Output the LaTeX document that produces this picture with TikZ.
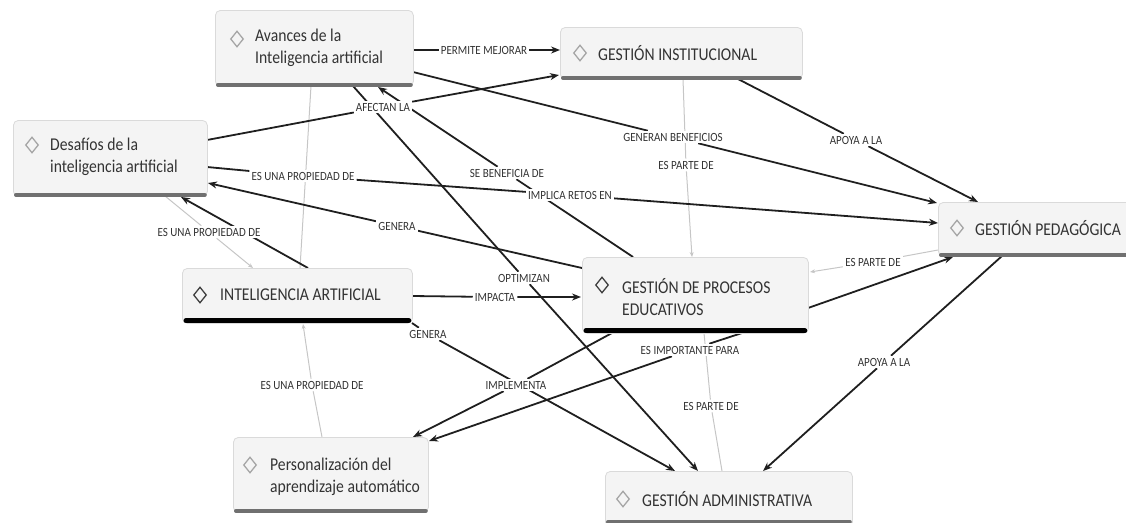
\documentclass[tikz,border=0pt]{standalone}
\usepackage{fontspec}
\usetikzlibrary{arrows.meta,calc,shapes.geometric}
\newfontfamily\boxfont{Carlito}[FakeStretch=0.87]
\newfontfamily\lblfont{Carlito}[FakeStretch=0.88]
\definecolor{boxfill}{HTML}{F4F4F4}
\definecolor{boxline}{HTML}{DADADA}
\definecolor{bargray}{HTML}{707070}
\definecolor{txt}{HTML}{333333}
\definecolor{lgray}{HTML}{C6C6C6}
\definecolor{dgray}{HTML}{A6A6A6}
\pgfdeclarelayer{bg}
\pgfsetlayers{bg,main}
\begin{document}
\begin{tikzpicture}[x=1pt,y=-1pt,
  cbox/.style={draw=boxline, fill=boxfill, rounded corners=5pt, anchor=north west, inner sep=0pt, line width=0.8pt},
  btext/.style={anchor=west, align=left, inner sep=0pt, text=txt, font=\boxfont\fontsize{18}{22}\selectfont},
  diam/.style={diamond, draw=dgray, line width=1.3pt, minimum width=13pt, minimum height=16pt, inner sep=0pt},
  diamk/.style={diam, draw=black!75},
  barg/.style={draw=bargray, line width=4pt, line cap=round},
  bark/.style={draw=black, line width=5pt, line cap=round},
  lbl/.style={fill=white, inner sep=2pt, text=txt, font=\lblfont\fontsize{12.5}{13}\selectfont},
  blk/.style={draw=black!88, line width=1.8pt, -{Stealth[length=9pt,width=7pt]}},
  blkn/.style={draw=black!88, line width=1.8pt},
  gry/.style={draw=lgray, line width=1pt, -{Stealth[length=5pt,width=4pt]}},
  gryn/.style={draw=lgray, line width=1pt}]
\useasboundingbox (0,0) rectangle (1126,522);
\clip (0,0) rectangle (1126,522);

% ---- boxes ----
\node[cbox, minimum width=198pt, minimum height=76pt] (A) at (215,10) {};
\draw[barg] ($(A.south west)+(3,-2)$) -- ($(A.south east)+(-3,-2)$);
\node[diam] (Ad) at (237,39) {};
\node[btext] (At) at (255,48) {Avances de la\\Inteligencia artificial};

\node[cbox, minimum width=242pt, minimum height=52pt] (GI) at (560,27) {};
\draw[barg] ($(GI.south west)+(3,-2)$) -- ($(GI.south east)+(-3,-2)$);
\node[diam] (GId) at (580,53) {};
\node[btext] (GIt) at (598,53) {GESTIÓN INSTITUCIONAL};

\node[cbox, minimum width=194pt, minimum height=76pt] (D) at (13,120) {};
\draw[barg] ($(D.south west)+(3,-2)$) -- ($(D.south east)+(-3,-2)$);
\node[diam] (Dd) at (32,145) {};
\node[btext] (Dt) at (50,157) {Desafíos de la\\inteligencia artificial};

\node[cbox, minimum width=200pt, minimum height=54pt] (GP) at (938,202) {};
\draw[barg] ($(GP.south west)+(3,-2)$) -- ($(GP.south east)+(-3,-2)$);
\node[diam] (GPd) at (957,228) {};
\node[btext] (GPt) at (975,228) {GESTIÓN PEDAGÓGICA};

\node[cbox, minimum width=230pt, minimum height=55pt] (IA) at (182,268) {};
\draw[bark] ($(IA.south west)+(4,-3)$) -- ($(IA.south east)+(-4,-3)$);
\node[diamk] (IAd) at (200,295) {};
\node[btext] (IAt) at (220,295) {INTELIGENCIA ARTIFICIAL};

\node[cbox, minimum width=226pt, minimum height=76pt] (GPE) at (582,257) {};
\draw[bark] ($(GPE.south west)+(4,-3)$) -- ($(GPE.south east)+(-4,-3)$);
\node[diamk] (GPEd) at (602,285) {};
\node[btext] (GPEt) at (622,297) {GESTIÓN DE PROCESOS\\EDUCATIVOS};

\node[cbox, minimum width=195pt, minimum height=75pt] (P) at (233,437) {};
\draw[barg] ($(P.south west)+(3,-2)$) -- ($(P.south east)+(-3,-2)$);
\node[diam] (Pd) at (250,465) {};
\node[btext] (Pt) at (270,477) {Personalización del\\aprendizaje automático};

\node[cbox, minimum width=247pt, minimum height=56pt] (GA) at (605,471) {};
\draw[barg] ($(GA.south west)+(3,-6)$) -- ($(GA.south east)+(-3,-6)$);
\node[diam] (GAd) at (623,499) {};
\node[btext] (GAt) at (642,499) {GESTIÓN ADMINISTRATIVA};

% ---- labels ----
\node[lbl] (L1) at (484,50) {PERMITE MEJORAR};
\node[lbl] (L2) at (383,107) {AFECTAN LA};
\node[lbl] (L3) at (507,173) {SE BENEFICIA DE};
\node[lbl] (L4) at (524,278) {OPTIMIZAN};
\node[lbl] (L5) at (673,137) {GENERAN BENEFICIOS};
\node[lbl] (L6) at (856,140) {APOYA A LA};
\node[lbl] (L7) at (686,165) {ES PARTE DE};
\node[lbl] (L8a) at (303,176) {ES UNA PROPIEDAD DE};
\node[lbl] (L8b) at (570,195) {IMPLICA RETOS EN};
\node[lbl] (L9) at (397,226) {GENERA};
\node[lbl] (L10) at (209,232) {ES UNA PROPIEDAD DE};
\node[lbl] (L12) at (495,297) {IMPACTA};
\node[lbl] (L13) at (428,334) {GENERA};
\node[lbl] (L14) at (516,385) {IMPLEMENTA};
\node[lbl] (L15) at (690,350) {ES IMPORTANTE PARA};
\node[lbl] (L16) at (711,406) {ES PARTE DE};
\node[lbl] (L17) at (884,362) {APOYA A LA};
\node[lbl] (L19) at (873,262) {ES PARTE DE};
\node[lbl] (L20) at (312,385) {ES UNA PROPIEDAD DE};

% ---- connectors ----
\begin{pgfonlayer}{bg}
\draw[gryn] ($(A.north west)+(96,76)$) -- ($(IA.north west)+(118,0)$);
\draw[gry] ($(GI.north west)+(123,52)$) -- (L7) -- ($(GPE.north west)+(110,0)$);
\draw[gry] ($(GP.north west)+(0,48)$) -- (L19) -- ($(GPE.north west)+(228,15)$);
\draw[gryn] ($(GPE.north west)+(122,76)$) -- (L16) -- ($(GA.north west)+(117,0)$);
\draw[gry] ($(P.north west)+(89,0)$) -- (L20) -- ($(IA.north west)+(121,56)$);

\draw[blk] ($(A.north west)+(198,40)$) -- (L1) -- ($(GI.north west)+(0,23)$);
\draw[blk] ($(D.north west)+(194,20)$) -- (L2) -- ($(GI.north west)+(-1,48)$);
\draw[blk] ($(GPE.north west)+(51,0)$) -- (L3) -- ($(A.north west)+(163,77)$);
\draw[blk] ($(A.north west)+(138,76)$) -- (L4) -- ($(GA.north west)+(93,0)$);
\draw[blk] ($(A.north west)+(198,62)$) -- (L5) -- ($(GP.north west)+(-1,1)$);
\draw[blk] ($(GI.north west)+(178,52)$) -- (L6) -- ($(GP.north west)+(40,0)$);
\draw[blk] ($(D.north west)+(194,47)$) -- (L8a) -- (L8b) -- ($(GP.north west)+(0,21)$);
\draw[blk] ($(GPE.north west)+(0,11)$) -- (L9) -- ($(D.north west)+(195,63)$);
\draw[blk] ($(IA.north west)+(126,0)$) -- ($(D.north west)+(168,77)$);
\draw[blk] ($(IA.north west)+(230,28)$) -- (L12) -- ($(GPE.north west)+(-1,40)$);
\draw[blk] ($(IA.north west)+(230,55)$) -- (L13) -- ($(GA.north west)+(70,0)$);
\draw[blk] ($(GPE.north west)+(30,76)$) -- (L14) -- ($(P.north west)+(180,0)$);
\draw[blk] ($(GPE.north west)+(160,76)$) -- (L15) -- ($(P.north west)+(196,4)$);
\draw[blk] ($(GP.north west)+(64,54)$) -- (L17) -- ($(GA.north west)+(158,0)$);
\draw[blk] ($(GPE.north west)+(226,51)$) -- ($(GP.north west)+(15,55)$);
\draw[gry] ($(D.north west)+(152,76)$) -- (L10) -- ($(IA.north west)+(71,0)$);
\end{pgfonlayer}
\end{tikzpicture}
\end{document}
